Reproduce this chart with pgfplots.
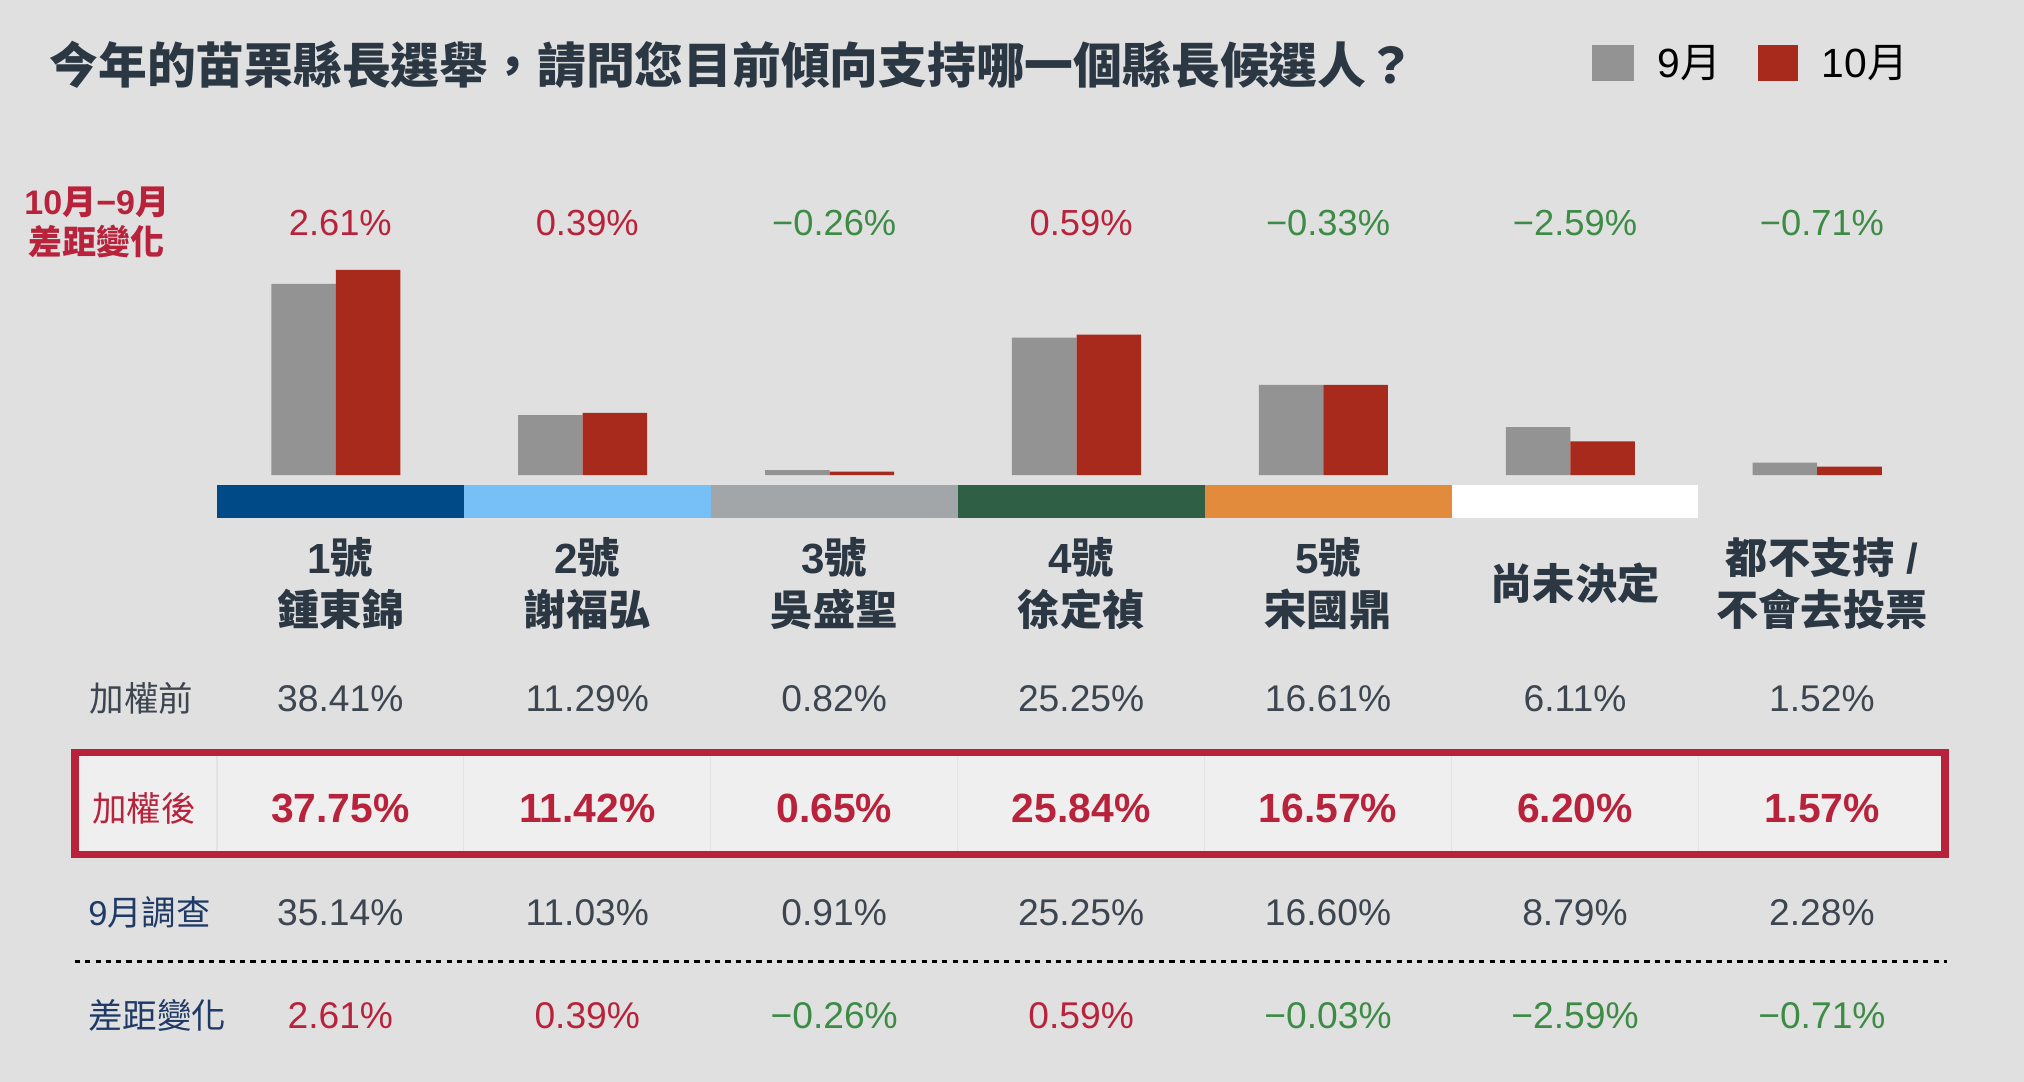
\documentclass[border=0pt]{standalone}
\usepackage{fontspec}
\setmainfont{Liberation Sans}
\newfontfamily\cjk{Noto Sans CJK TC}
\usepackage{pgfplots}
\pgfplotsset{compat=1.18}

\definecolor{bgc}{HTML}{E0E0E0}
\definecolor{sepbar}{HTML}{939393}
\definecolor{octbar}{HTML}{A82A1C}
\definecolor{titlec}{HTML}{2B3743}
\definecolor{crim}{HTML}{B8223A}
\definecolor{grn}{HTML}{3D8C46}
\definecolor{navyt}{HTML}{1F3A66}
\definecolor{valc}{HTML}{3D4650}
\definecolor{boxfill}{HTML}{EFEFEF}
\definecolor{sepline}{HTML}{E3E3E3}
\definecolor{s1}{HTML}{004A88}
\definecolor{s2}{HTML}{76C0F7}
\definecolor{s3}{HTML}{A3A6A8}
\definecolor{s4}{HTML}{2F5F45}
\definecolor{s5}{HTML}{E28B3D}

\newcommand{\C}[1]{{\cjk #1}}
\newcommand{\fs}[1]{\fontsize{#1}{#1}\selectfont}

\begin{document}
\begin{tikzpicture}[x=0.1mm, y=-0.1mm]
% background
\fill[bgc] (0,0) rectangle (1568,838);
\coordinate (base) at (164.5,368);

\begin{axis}[
    at={(base)}, anchor=south west,
    scale only axis,
    width=133.9mm, height=16.85mm,
    xmin=-0.5, xmax=6.5, ymin=0, ymax=40,
    hide axis, clip=false,
    ybar=0pt, bar width=5mm,
  ]
  \addplot[fill=sepbar, draw=none] coordinates
    {(0,35.14) (1,11.03) (2,0.91) (3,25.25) (4,16.60) (5,8.79) (6,2.28)};
  \addplot[fill=octbar, draw=none] coordinates
    {(0,37.75) (1,11.42) (2,0.65) (3,25.84) (4,16.57) (5,6.20) (6,1.57)};
\end{axis}

% title
\node[anchor=west, text=titlec, font=\fs{10.75}\bfseries\cjk] at (26,50)
  {今年的苗栗縣長選舉，請問您目前傾向支持哪一個縣長候選人？};

% legend
\fill[sepbar] (1233,35) rectangle (1266,63);
\node[anchor=west, font=\fs{9}] at (1272,49) {9\C{月}};
\fill[octbar] (1362,35) rectangle (1393,63);
\node[anchor=west, font=\fs{9}] at (1399,49) {10\C{月}};

% difference caption
\node[text=crim, font=\fs{7.5}\bfseries] at (75,157) {10\C{月}−9\C{月}};
\node[text=crim, font=\fs{7.5}\bfseries\cjk] at (75,187) {差距變化};

% difference values above bars
\foreach \x/\v/\c in {263.65/2.61\%/crim, 454.95/0.39\%/crim, 646.25/−0.26\%/grn,
    837.55/0.59\%/crim, 1028.85/−0.33\%/grn, 1220.15/−2.59\%/grn, 1411.45/−0.71\%/grn}
  \node[text=\c, font=\fs{8}] at (\x,173) {\v};

% colour strips
\fill[s1]  (168,376) rectangle (359.3,401);
\fill[s2]  (359.3,376) rectangle (550.6,401);
\fill[s3]  (550.6,376) rectangle (741.9,401);
\fill[s4]  (741.9,376) rectangle (933.2,401);
\fill[s5]  (933.2,376) rectangle (1124.5,401);
\fill[white] (1124.5,376) rectangle (1315.8,401);

% candidate labels
\begin{scope}[every node/.style={text=titlec, font=\fs{9.3}\bfseries}]
  \node at (263.65,432) {1\C{號}};
  \node at (263.65,472) {\C{鍾東錦}};
  \node at (454.95,432) {2\C{號}};
  \node at (454.95,472) {\C{謝福弘}};
  \node at (646.25,432) {3\C{號}};
  \node at (646.25,472) {\C{吳盛聖}};
  \node at (837.55,432) {4\C{號}};
  \node at (837.55,472) {\C{徐定禎}};
  \node at (1028.85,432) {5\C{號}};
  \node at (1028.85,472) {\C{宋國鼎}};
  \node at (1220.15,452) {\C{尚未決定}};
  \node at (1411.45,432) {\C{都不支持} /};
  \node at (1411.45,472) {\C{不會去投票}};
\end{scope}

% highlighted row box
\fill[boxfill] (58,583) rectangle (1507,662);
\foreach \x in {168,359.3,550.6,741.9,933.2,1124.5,1315.8}
  \draw[sepline, line width=0.1mm] (\x,586) -- (\x,659);
\draw[crim, line width=0.6mm] (58,583) rectangle (1507,662);

% row labels
\node[anchor=west, text=valc, font=\fs{7.6}\cjk] at (57,541) {加權前};
\node[anchor=west, text=crim, font=\fs{7.6}\cjk] at (59,626) {加權後};
\node[anchor=west, text=navyt, font=\fs{7.6}] at (56,707) {9\C{月調查}};
\node[anchor=west, text=navyt, font=\fs{7.6}\cjk] at (56,787) {差距變化};

% rows of values
\foreach \x/\v in {263.65/38.41, 454.95/11.29, 646.25/0.82, 837.55/25.25,
    1028.85/16.61, 1220.15/6.11, 1411.45/1.52}
  \node[text=valc, font=\fs{8.2}] at (\x,541) {\v\%};
\foreach \x/\v in {263.65/37.75, 454.95/11.42, 646.25/0.65, 837.55/25.84,
    1028.85/16.57, 1220.15/6.20, 1411.45/1.57}
  \node[text=crim, font=\fs{9}\bfseries] at (\x,626) {\v\%};
\foreach \x/\v in {263.65/35.14, 454.95/11.03, 646.25/0.91, 837.55/25.25,
    1028.85/16.60, 1220.15/8.79, 1411.45/2.28}
  \node[text=valc, font=\fs{8.2}] at (\x,707) {\v\%};

\draw[black, line width=0.2mm, dash pattern=on 0.4mm off 0.4mm] (58,745) -- (1508,745);

\foreach \x/\v/\c in {263.65/2.61\%/crim, 454.95/0.39\%/crim, 646.25/−0.26\%/grn,
    837.55/0.59\%/crim, 1028.85/−0.03\%/grn, 1220.15/−2.59\%/grn, 1411.45/−0.71\%/grn}
  \node[text=\c, font=\fs{8.2}] at (\x,787) {\v};
\end{tikzpicture}
\end{document}
